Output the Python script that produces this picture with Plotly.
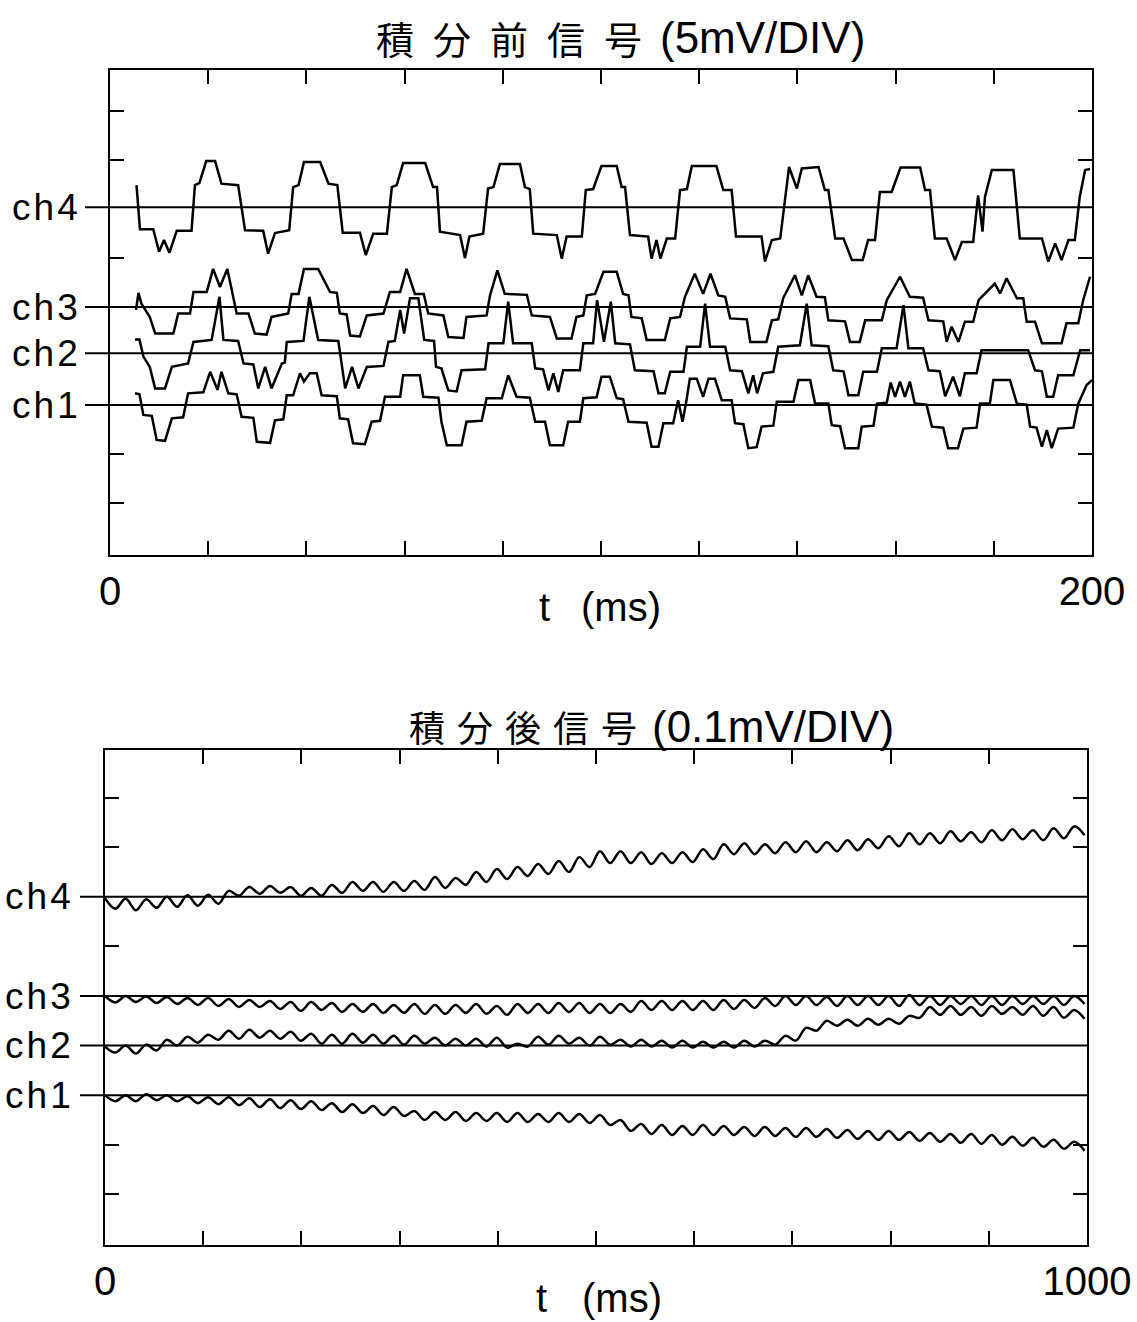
import plotly.graph_objects as go

W, H = 1137, 1322

# ---------------- data ----------------
CHANNELS = ["ch1", "ch2", "ch3", "ch4"]
BASELINE_BEFORE = [0.0, 1.06, 2.0, 4.04]   # divisions (5 mV/DIV)
BASELINE_AFTER = [0.0, 1.0, 2.0, 4.0]      # divisions (0.1 mV/DIV)

TITLE_BEFORE_CJK = "積\u2002分\u2002前\u2002信\u2002号"
TITLE_BEFORE_UNIT = "(5mV/DIV)"
TITLE_AFTER_CJK = "積\u2004分\u2004後\u2004信\u2004号"
TITLE_AFTER_UNIT = "(0.1mV/DIV)"
X_LABEL_T = "t"
X_LABEL_UNIT = "(ms)"

X_BEFORE_TICKS = [0, 20, 40, 60, 80, 100, 120, 140, 160, 180, 200]
X_BEFORE_TICKTEXT = ["0", "", "", "", "", "", "", "", "", "", "200"]
X_AFTER_TICKS = [0, 100, 200, 300, 400, 500, 600, 700, 800, 900, 1000]
X_AFTER_TICKTEXT = ["0", "", "", "", "", "", "", "", "", "", "1000"]
Y_TICKS = [-2, -1, 3, 5, 6]

# signal before integration: (t ms, value in div relative to channel baseline)
CH1_BEFORE = [(5.1,0.24),(6.0,0.22),(6.8,-0.2),(8.5,-0.22),(9.5,-0.71),(11.2,-0.73),(12.6,-0.27),(14.9,-0.25),
 (15.9,0.24),(19.0,0.26),(20.4,0.68),(21.9,0.31),(22.7,0.68),(24.1,0.24),(25.8,0.22),(26.8,-0.24),(29.2,-0.26),
 (29.9,-0.75),(32.6,-0.77),(33.6,-0.31),(35.3,-0.29),(36.0,0.2),(37.3,0.2),(38.7,0.65),(39.5,0.48),(40.7,0.65),
 (42.1,0.65),(43.1,0.2),(46.2,0.18),(46.8,-0.27),(48.5,-0.29),(49.5,-0.78),(51.9,-0.8),(53.3,-0.34),(55.0,-0.32),
 (56.0,0.17),(59.1,0.17),(59.7,0.61),(63.1,0.61),(63.8,0.17),(66.9,0.15),(67.5,-0.34),(68.6,-0.82),(71.6,-0.82),
 (72.6,-0.34),(75.7,-0.32),(76.7,0.14),(79.8,0.14),(81.1,0.61),(82.8,0.17),(85.5,0.15),(86.6,-0.34),(88.6,-0.34),
 (89.6,-0.82),(92.3,-0.82),(93.3,-0.34),(95.7,-0.34),(96.4,0.14),(99.1,0.16),(100.1,0.58),(101.8,0.58),(103.2,0.14),
 (104.5,0.12),(105.6,-0.34),(109.3,-0.36),(110.3,-0.85),(111.7,-0.85),(112.7,-0.37),(114.7,-0.37),(115.7,0.1),
 (116.6,-0.34),(117.3,0.03),(118.1,0.54),(119.5,0.54),(120.8,0.17),(121.9,0.54),(123.2,0.54),(124.6,0.1),(126.6,0.1),
 (127.3,-0.37),(129.0,-0.39),(130.0,-0.88),(131.7,-0.86),(132.7,-0.44),(135.1,-0.42),(135.8,0.07),(139.2,0.07),
 (140.2,0.51),(142.6,0.51),(143.6,0.03),(146.3,0.03),(147.0,-0.41),(148.7,-0.43),(149.7,-0.88),(152.4,-0.88),
 (153.1,-0.44),(155.5,-0.42),(156.2,0.03),(158.2,0.05),(159.0,0.46),(159.9,0.17),(160.9,0.48),(161.9,0.17),
 (162.9,0.48),(163.9,0.03),(166.3,0.01),(167.4,-0.44),(169.7,-0.46),(170.7,-0.88),(172.7,-0.88),(173.8,-0.48),
 (176.5,-0.46),(177.2,0.03),(179.2,0.03),(179.9,0.51),(183.3,0.51),(184.7,0.03),(186.7,0.01),(187.4,-0.44),
 (188.7,-0.46),(189.8,-0.85),(190.8,-0.51),(191.8,-0.88),(193.1,-0.48),(196.2,-0.46),(197.2,0.03),(198.9,0.41),
 (200.0,0.51)]

CH2_BEFORE = [(5.1,0.28),(6.0,0.28),(6.8,-0.07),(8.1,-0.28),(9.2,-0.72),(11.2,-0.72),(12.6,-0.28),(15.9,-0.21),
 (17.0,0.23),(20.7,0.27),(22.3,1.15),(23.1,0.27),(26.1,0.25),(27.2,-0.21),(29.2,-0.23),(30.2,-0.72),(31.6,-0.28),
 (32.9,-0.72),(35.0,-0.21),(35.6,-0.19),(36.0,0.23),(39.4,0.25),(40.6,1.15),(42.4,0.27),(46.5,0.25),(47.9,-0.72),
 (49.3,-0.28),(50.6,-0.72),(52.3,-0.28),(55.7,-0.26),(56.7,0.23),(58.0,0.25),(59.1,0.88),(59.9,0.4),(61.1,1.12),
 (62.8,1.12),(64.0,0.27),(66.0,0.25),(66.4,-0.28),(67.5,-0.31),(68.9,-0.76),(70.6,-0.78),(71.6,-0.35),(76.4,-0.33),
 (77.1,0.2),(80.1,0.2),(81.1,1.05),(82.1,0.2),(85.9,0.2),(86.6,-0.31),(88.2,-0.33),(89.3,-0.76),(90.3,-0.41),
 (91.3,-0.79),(92.3,-0.35),(95.7,-0.35),(96.4,0.2),(98.4,0.2),(99.2,1.08),(100.6,0.23),(102.0,1.05),(102.9,0.2),
 (105.9,0.18),(106.9,-0.35),(110.7,-0.37),(111.7,-0.82),(113.0,-0.82),(114.1,-0.38),(116.8,-0.38),(117.5,0.13),
 (120.2,0.13),(121.2,1.01),(122.2,0.13),(125.3,0.13),(126.3,-0.35),(128.7,-0.37),(130.0,-0.82),(131.0,-0.45),
 (131.8,-0.82),(133.0,-0.41),(135.1,-0.38),(136.1,0.13),(140.5,0.16),(141.9,1.01),(142.9,0.16),(146.3,0.14),
 (147.3,-0.35),(149.4,-0.37),(150.4,-0.86),(152.4,-0.86),(153.4,-0.38),(156.2,-0.38),(157.2,0.1),(160.2,0.1),
 (161.6,0.98),(162.6,0.1),(165.6,0.1),(166.7,-0.35),(169.0,-0.37),(170.1,-0.88),(171.7,-0.48),(173.1,-0.88),
 (174.1,-0.41),(176.5,-0.41),(177.5,0.06),(187.0,0.06),(188.4,-0.35),(189.8,-0.37),(190.8,-0.89),(192.1,-0.89),
 (193.1,-0.45),(196.2,-0.45),(197.6,0.06),(199.6,0.06)]

CH3_BEFORE = [(5.3,-0.06),(5.8,0.29),(6.4,0.07),(8.1,-0.2),(9.2,-0.54),(12.9,-0.54),(13.9,-0.13),(16.3,-0.13),
 (17.0,0.31),(19.7,0.31),(21.0,0.78),(22.4,0.41),(23.9,0.78),(25.8,-0.13),(28.2,-0.13),(29.5,-0.54),(31.9,-0.56),
 (32.9,-0.2),(36.3,-0.13),(37.0,0.27),(38.4,0.27),(39.5,0.78),(42.4,0.78),(44.8,0.31),(46.2,0.29),(46.8,-0.13),
 (48.2,-0.15),(48.9,-0.58),(50.9,-0.6),(52.3,-0.17),(55.7,-0.13),(57.0,0.31),(59.1,0.31),(60.4,0.78),(62.1,0.27),
 (63.9,0.27),(64.8,-0.13),(67.9,-0.17),(68.9,-0.61),(72.0,-0.63),(72.6,-0.2),(76.7,-0.17),(77.4,0.24),(78.9,0.75),
 (80.4,0.27),(84.9,0.25),(85.9,-0.17),(89.6,-0.2),(91.0,-0.64),(94.0,-0.64),(95.0,-0.2),(96.4,-0.17),(97.1,0.24),
 (98.8,0.27),(100.5,0.72),(103.2,0.72),(104.5,0.27),(105.6,0.24),(106.2,-0.2),(108.3,-0.23),(109.3,-0.67),
 (113.0,-0.67),(114.1,-0.23),(116.1,-0.2),(117.1,0.21),(119.1,0.68),(120.8,0.27),(122.3,0.68),(123.9,0.24),
 (125.3,0.21),(126.3,-0.23),(129.7,-0.25),(130.4,-0.71),(133.7,-0.71),(134.8,-0.27),(136.1,-0.25),(137.1,0.18),
 (139.5,0.65),(140.9,0.24),(142.2,0.65),(143.9,0.21),(145.6,0.2),(146.3,-0.27),(149.7,-0.29),(150.7,-0.71),
 (152.7,-0.71),(153.8,-0.27),(157.2,-0.27),(158.2,0.14),(160.9,0.62),(162.9,0.21),(165.6,0.19),(166.7,-0.27),
 (169.7,-0.29),(170.4,-0.71),(171.4,-0.4),(172.8,-0.71),(174.1,-0.3),(175.8,-0.3),(176.9,0.14),(180.2,0.48),
 (181.3,0.28),(182.6,0.59),(184.7,0.18),(186.0,0.18),(186.7,-0.3),(188.4,-0.3),(189.8,-0.74),(193.8,-0.74),
 (194.8,-0.33),(197.2,-0.33),(198.2,0.14),(199.6,0.62)]

CH4_BEFORE = [(5.4,0.45),(6.1,-0.45),(8.8,-0.45),(10.0,-0.91),(11.0,-0.67),(12.1,-0.93),(13.6,-0.48),(16.6,-0.48),
 (17.3,0.45),(18.2,0.49),(19.6,0.94),(21.4,0.94),(22.7,0.48),(26.1,0.45),(27.5,-0.47),(31.2,-0.48),(32.2,-0.95),
 (33.6,-0.53),(36.5,-0.47),(37.3,0.41),(38.4,0.45),(39.5,0.92),(42.8,0.92),(44.5,0.48),(46.3,0.45),(47.4,-0.52),
 (50.9,-0.52),(52.1,-0.98),(53.6,-0.54),(56.4,-0.54),(57.4,0.41),(58.4,0.45),(59.7,0.90),(64.2,0.90),(65.8,0.41),
 (66.6,0.41),(67.2,-0.50),(71.3,-0.57),(72.3,-1.04),(73.2,-0.60),(76.0,-0.54),(77.0,0.38),(78.1,0.41),(79.4,0.88),
 (83.5,0.88),(84.5,0.41),(85.5,0.37),(86.2,-0.54),(91.0,-0.57),(92.0,-1.05),(93.0,-0.60),(96.1,-0.60),(96.9,0.35),
 (98.4,0.37),(100.1,0.84),(103.2,0.84),(104.2,0.41),(104.9,0.41),(105.9,-0.57),(109.6,-0.60),(110.3,-1.05),
 (111.3,-0.67),(112.1,-1.05),(113.4,-0.64),(115.1,-0.64),(116.1,0.35),(117.5,0.37),(118.5,0.84),(123.5,0.84),
 (124.9,0.35),(126.6,0.35),(127.5,-0.60),(132.7,-0.60),(133.4,-1.11),(134.8,-0.67),(136.5,-0.64),(138.3,0.82),
 (139.9,0.38),(140.9,0.79),(144.3,0.82),(145.6,0.35),(146.3,0.35),(147.7,-0.64),(149.4,-0.64),(151.1,-1.08),
 (153.3,-1.08),(154.4,-0.67),(155.8,-0.67),(156.8,0.31),(159.2,0.31),(161.0,0.81),(165.0,0.81),(166.0,0.35),
 (167.0,0.35),(168.0,-0.64),(170.4,-0.64),(172.1,-1.08),(173.5,-0.71),(175.8,-0.71),(176.8,0.24),(177.7,-0.50),
 (178.2,0.21),(179.6,0.76),(184.0,0.76),(185.3,-0.64),(189.8,-0.64),(191.1,-1.11),(192.5,-0.74),(193.8,-1.08),
 (195.2,-0.67),(196.5,-0.67),(197.5,0.21),(198.6,0.76),(199.6,0.78)]

# signal after integration: sampled at peaks / troughs (t ms), value in div
T_AFTER = [0, 10.5, 21, 31.5, 42, 52.5, 63, 73.5, 84, 94.5, 105, 115.5, 126, 136.5, 147, 157.5, 168, 178.5, 189,
 199.5, 210, 220.5, 231, 241.5, 252, 262.5, 273, 283.5, 294, 304.5, 315, 325.5, 336, 346.5, 357, 367.5, 378, 388.5,
 399, 409.5, 420, 430.5, 441, 451.5, 462, 472.5, 483, 493.5, 504, 514.5, 525, 535.5, 546, 556.5, 567, 577.5, 588,
 598.5, 609, 619.5, 630, 640.5, 651, 661.5, 672, 682.5, 693, 703.5, 714, 724.5, 735, 745.5, 756, 766.5, 777, 787.5,
 798, 808.5, 819, 829.5, 840, 850.5, 861, 871.5, 882, 892.5, 903, 913.5, 924, 934.5, 945, 955.5, 966, 976.5, 987, 997.5]

CH1_AFTER = [0.0,-0.12,0.0,-0.12,0.02,-0.1,0.0,-0.12,-0.02,-0.16,
 -0.04,-0.18,-0.04,-0.2,-0.06,-0.24,-0.08,-0.26,-0.1,-0.28,
 -0.12,-0.3,-0.16,-0.34,-0.18,-0.36,-0.22,-0.4,-0.24,-0.42,
 -0.32,-0.5,-0.34,-0.5,-0.34,-0.52,-0.36,-0.52,-0.36,-0.54,
 -0.36,-0.54,-0.38,-0.54,-0.36,-0.54,-0.38,-0.56,-0.4,-0.6,
 -0.5,-0.72,-0.58,-0.78,-0.6,-0.8,-0.62,-0.8,-0.6,-0.8,
 -0.62,-0.8,-0.64,-0.82,-0.64,-0.82,-0.66,-0.84,-0.66,-0.84,
 -0.68,-0.86,-0.7,-0.88,-0.72,-0.9,-0.72,-0.9,-0.74,-0.92,
 -0.76,-0.94,-0.78,-0.96,-0.78,-0.98,-0.8,-1.0,-0.84,-1.02,
 -0.86,-1.04,-0.9,-1.08,-0.94,-1.12]

CH2_AFTER = [-0.02,-0.14,0.0,-0.16,0.02,-0.1,0.12,0.0,0.18,0.06,
 0.22,0.12,0.3,0.14,0.32,0.16,0.3,0.14,0.28,0.1,
 0.24,0.04,0.22,0.04,0.24,0.06,0.22,0.04,0.2,0.02,
 0.2,0.04,0.16,0.0,0.14,0.0,0.14,-0.02,0.16,-0.04,
 0.04,-0.02,0.18,0.02,0.2,0.04,0.16,0.0,0.18,0.02,
 0.12,-0.02,0.12,-0.02,0.1,-0.04,0.1,-0.04,0.08,-0.04,
 0.08,-0.04,0.1,-0.02,0.1,0.02,0.2,0.1,0.36,0.3,
 0.5,0.4,0.52,0.4,0.54,0.42,0.54,0.44,0.6,0.56,
 0.78,0.62,0.8,0.62,0.78,0.6,0.8,0.64,0.78,0.62,
 0.8,0.6,0.78,0.56,0.72,0.54]

CH3_AFTER = [0.0,-0.13,0.0,-0.12,-0.01,-0.14,-0.02,-0.16,-0.04,-0.18,
 -0.04,-0.2,-0.06,-0.22,-0.08,-0.22,-0.1,-0.26,-0.12,-0.3,
 -0.12,-0.28,-0.14,-0.32,-0.16,-0.32,-0.16,-0.34,-0.18,-0.34,
 -0.16,-0.36,-0.18,-0.36,-0.18,-0.34,-0.16,-0.36,-0.2,-0.38,
 -0.16,-0.34,-0.16,-0.34,-0.14,-0.32,-0.14,-0.34,-0.16,-0.34,
 -0.16,-0.32,-0.1,-0.28,-0.1,-0.28,-0.1,-0.28,-0.1,-0.28,
 -0.08,-0.26,-0.08,-0.24,-0.04,-0.2,0.0,-0.18,0.0,-0.18,
 -0.02,-0.2,0.0,-0.18,0.0,-0.18,0.0,-0.2,0.02,-0.18,
 0.0,-0.18,0.0,-0.16,0.0,-0.18,0.0,-0.18,0.0,-0.16,
 0.0,-0.16,0.0,-0.18,0.0,-0.16]

CH4_AFTER = [-0.03,-0.24,-0.04,-0.27,-0.05,-0.22,0.0,-0.2,0.03,-0.18,
 0.04,-0.14,0.12,0.02,0.2,0.06,0.22,0.08,0.2,0.02,
 0.18,0.02,0.24,0.08,0.3,0.12,0.3,0.1,0.3,0.12,
 0.32,0.14,0.4,0.18,0.38,0.24,0.5,0.3,0.56,0.36,
 0.6,0.42,0.66,0.46,0.72,0.5,0.8,0.6,0.92,0.68,
 0.92,0.68,0.9,0.66,0.88,0.68,0.9,0.7,0.96,0.76,
 1.06,0.86,1.08,0.86,1.06,0.88,1.1,0.9,1.12,0.9,
 1.1,0.92,1.14,0.94,1.16,0.98,1.22,1.02,1.28,1.06,
 1.28,1.08,1.32,1.12,1.3,1.1,1.34,1.14,1.36,1.16,
 1.34,1.14,1.38,1.18,1.42,1.24]

BEFORE = [CH1_BEFORE, CH2_BEFORE, CH3_BEFORE, CH4_BEFORE]
AFTER = [CH1_AFTER, CH2_AFTER, CH3_AFTER, CH4_AFTER]

# ---------------- figure ----------------
def px(x):
    return x / W

def py(y):
    return 1 - y / H

INK = "black"
LATIN = "Liberation Sans, Arial, sans-serif"
CJK = "Noto Sans CJK JP, Noto Sans CJK SC, sans-serif"

fig = go.Figure()

for name, pts, base in zip(CHANNELS, BEFORE, BASELINE_BEFORE):
    fig.add_trace(go.Scatter(
        x=[p[0] for p in pts], y=[p[1] + base for p in pts],
        mode="lines", name=name, line=dict(color=INK, width=2.5),
        xaxis="x", yaxis="y", showlegend=False, hoverinfo="skip"))

for name, vals, base in zip(CHANNELS, AFTER, BASELINE_AFTER):
    fig.add_trace(go.Scatter(
        x=T_AFTER, y=[v + base for v in vals],
        mode="lines", name=name, line=dict(color=INK, width=2.5, shape="spline", smoothing=1.0),
        xaxis="x2", yaxis="y2", showlegend=False, hoverinfo="skip"))

axis_common = dict(showline=True, linecolor=INK, linewidth=2, mirror="ticks",
                   ticks="inside", ticklen=14, tickwidth=1.5, tickcolor=INK,
                   showgrid=False, zeroline=False, fixedrange=True, automargin=False)

fig.update_layout(
    width=W, height=H, margin=dict(l=0, r=0, t=0, b=0, autoexpand=False),
    paper_bgcolor="white", plot_bgcolor="white", showlegend=False,
    xaxis=dict(domain=[px(110), px(1092)], range=[0, 200], anchor="y",
               tickvals=X_BEFORE_TICKS, ticktext=X_BEFORE_TICKTEXT,
               tickfont=dict(family=LATIN, size=40, color=INK), ticklabelstandoff=0,
               **axis_common),
    yaxis=dict(domain=[py(555), py(70)], range=[-3.06, 6.84], anchor="x",
               tickvals=Y_TICKS, showticklabels=False, **axis_common),
    xaxis2=dict(domain=[px(105), px(1087)], range=[0, 1000], anchor="y2",
                tickvals=X_AFTER_TICKS, ticktext=X_AFTER_TICKTEXT,
                tickfont=dict(family=LATIN, size=40, color=INK), ticklabelstandoff=0,
                **axis_common),
    yaxis2=dict(domain=[py(1245), py(750)], range=[-3.02, 6.96], anchor="x2",
                tickvals=Y_TICKS, showticklabels=False, **axis_common),
)

shapes = []
annotations = []

def spaced(name):
    return "\u200a".join(name)

for name, base in zip(CHANNELS, BASELINE_BEFORE):
    shapes.append(dict(type="line", xref="paper", yref="y", x0=px(85), x1=px(1092), y0=base, y1=base,
                       line=dict(color=INK, width=2)))
    annotations.append(dict(xref="paper", yref="y", x=px(10), y=base, xanchor="left", yanchor="middle",
                            text=spaced(name), showarrow=False, font=dict(family=LATIN, size=37, color=INK)))
for name, base in zip(CHANNELS, BASELINE_AFTER):
    shapes.append(dict(type="line", xref="paper", yref="y2", x0=px(80), x1=px(1087), y0=base, y1=base,
                       line=dict(color=INK, width=2)))
    annotations.append(dict(xref="paper", yref="y2", x=px(3), y=base, xanchor="left", yanchor="middle",
                            text=spaced(name), showarrow=False, font=dict(family=LATIN, size=37, color=INK)))

def label(text, x, y, family, size):
    annotations.append(dict(xref="paper", yref="paper", x=px(x), y=py(y), xanchor="center",
                            yanchor="middle", text=text, showarrow=False,
                            font=dict(family=family, size=size, color=INK)))

label(TITLE_BEFORE_CJK, 509, 38, CJK, 38)
label(TITLE_BEFORE_UNIT, 762, 38, LATIN, 44)
label(TITLE_AFTER_CJK, 523, 726, CJK, 36)
label(TITLE_AFTER_UNIT, 773, 726, LATIN, 44)
label(X_LABEL_T, 544, 607, LATIN, 40)
label(X_LABEL_UNIT, 621, 607, LATIN, 40)
label(X_LABEL_T, 541, 1298, LATIN, 40)
label(X_LABEL_UNIT, 622, 1298, LATIN, 40)

fig.update_layout(shapes=shapes, annotations=annotations)

fig.write_html("out.html", config={"displayModeBar": False, "responsive": False},
               post_script="document.body.style.margin='0';document.body.style.overflow='hidden';")
